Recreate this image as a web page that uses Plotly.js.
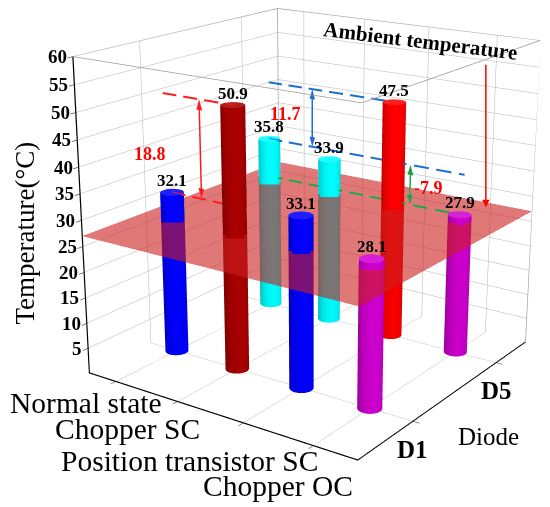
<!DOCTYPE html>
<html>
<head>
<meta charset="utf-8">
<script src="https://cdn.plot.ly/plotly-3.0.1.min.js"></script>
<style>
html,body{margin:0;padding:0;background:#fff;width:550px;height:507px;overflow:hidden;position:relative;}
#chart{position:absolute;left:-327px;top:-382px;width:1280px;height:1180px;}
</style>
</head>
<body>
<div id="chart"></div>
<script>
// ---- data ----
const categories = ['Normal state', 'Chopper SC', 'Position transistor SC', 'Chopper OC'];
const diodes = ['D1', 'D5'];
const tempD1 = [32.1, 50.9, 33.1, 28.1];
const tempD5 = [35.8, 33.9, 47.5, 27.9];
const ambientTemp = 27;
const zTicks = [5, 10, 15, 20, 25, 30, 35, 40, 45, 50, 55, 60];

// ---- styles ----
const colorsD1 = ['#0000ff', '#a80000', '#0000ff', '#d000d0'];
const colorsD5 = ['#00ffff', '#00ffff', '#ff0000', '#d000d0'];
const serif = 'Liberation Serif';
// label offsets (px) of the category labels from their ticks
const catShift = [[-30, -22], [-50, -27], [-54, -38], [-35, -40]];

const xRange = [0.55, 4.6];
const yRange = [0.43, 2.4];
const zRange = [0, 60];
const aspect = {x: 1, y: 1, z: 1};

const rScaled = 0.037;
const rx = rScaled * (xRange[1] - xRange[0]) / aspect.x;
const ry = rScaled * (yRange[1] - yRange[0]) / aspect.y;

const traces = [];
function flat(c) { return [[0, c], [1, c]]; }

function cylinder(xc, yc, h, color) {
  const n = 40;
  const th = [];
  for (let i = 0; i <= n; i++) th.push(2 * Math.PI * i / n);
  const sx = [], sy = [], sz = [], sc = [];
  [0, h].forEach(function (zz) {
    sx.push(th.map(t => xc + rx * Math.cos(t)));
    sy.push(th.map(t => yc + ry * Math.sin(t)));
    sz.push(th.map(() => zz));
    sc.push(th.map(() => 0));
  });
  traces.push({type: 'surface', x: sx, y: sy, z: sz, surfacecolor: sc,
    colorscale: flat(color), cmin: 0, cmax: 1, showscale: false, hoverinfo: 'skip',
    lighting: {ambient: 0.75, diffuse: 0.45, specular: 0.15, roughness: 0.6, fresnel: 0.1},
    lightposition: {x: 1000, y: -1000, z: 2000}});
  const cx = [], cy = [], cz = [], cc = [];
  [0, 1].forEach(function (f) {
    cx.push(th.map(t => xc + f * rx * Math.cos(t)));
    cy.push(th.map(t => yc + f * ry * Math.sin(t)));
    cz.push(th.map(() => h));
    cc.push(th.map(() => 0));
  });
  traces.push({type: 'surface', x: cx, y: cy, z: cz, surfacecolor: cc,
    colorscale: flat(color), cmin: 0, cmax: 1, showscale: false, hoverinfo: 'skip',
    lighting: {ambient: 0.6, diffuse: 0.3, specular: 0.1}});
}

categories.forEach(function (c, i) {
  cylinder(i + 1, 1, tempD1[i], colorsD1[i]);
  cylinder(i + 1, 2, tempD5[i], colorsD5[i]);
});

// thin outline of the box (top edges, back and right verticals)
const [x0, x1] = xRange, [y0, y1] = yRange, [z0, z1] = zRange;
traces.push({type: 'scatter3d', mode: 'lines',
  x: [x0, x0, x1, x1, x0, null, x0, x0, null, x1, x1],
  y: [y0, y1, y1, y0, y0, null, y1, y1, null, y1, y1],
  z: [z1, z1, z1, z1, z1, null, z0, z1, null, z0, z1],
  line: {color: '#9a9a9a', width: 1.5}, hoverinfo: 'skip', showlegend: false});

// ambient plane
traces.push({type: 'surface',
  x: [[x0, x1], [x0, x1]], y: [[y0, y0], [y1, y1]],
  z: [[ambientTemp, ambientTemp], [ambientTemp, ambientTemp]],
  surfacecolor: [[0, 0], [0, 0]], colorscale: flat('rgb(205,30,30)'), cmin: 0, cmax: 1,
  showscale: false, opacity: 0.6, hoverinfo: 'skip',
  lighting: {ambient: 1, diffuse: 0, specular: 0}});

// dashed guide line along x (dash pattern built in data units)
function dashLine(xa, xb, y, z, color) {
  const dash = 0.22, gap = 0.11;
  const xs = [], ys = [], zs = [];
  for (let s = xa; s < xb; s += dash + gap) {
    xs.push(s, Math.min(s + dash, xb), null);
    ys.push(y, y, null);
    zs.push(z, z, null);
  }
  traces.push({type: 'scatter3d', mode: 'lines', x: xs, y: ys, z: zs,
    line: {color: color, width: 4}, hoverinfo: 'skip', showlegend: false, connectgaps: false});
}
function vArrow(x, y, za, zb, color) {
  traces.push({type: 'scatter3d', mode: 'lines', x: [x, x], y: [y, y], z: [za + 1, zb - 1],
    line: {color: color, width: 3}, hoverinfo: 'skip', showlegend: false});
  const w = 0.045, hh = 2.0;
  traces.push({type: 'mesh3d',
    x: [x - w, x + w, x, x - w, x + w, x], y: [y, y, y, y, y, y],
    z: [za + hh, za + hh, za, zb - hh, zb - hh, zb],
    i: [0, 3], j: [1, 4], k: [2, 5], color: color, flatshading: true,
    lighting: {ambient: 1, diffuse: 0, specular: 0}, hoverinfo: 'skip'});
}

const red = '#ff1a1a', blue = '#1a6fd0', green = '#1aa640';
const arrowX = [1.48, 1.72, 3.26];
dashLine(0.9, 2.0, 1, tempD1[1], red);
dashLine(1.0, 1.9, 1, tempD1[0], red);
vArrow(arrowX[0], 1, tempD1[0], tempD1[1], red);
dashLine(1.0, 3.0, 2, tempD5[2], blue);
dashLine(1.0, 4.05, 2, tempD5[0], blue);
vArrow(arrowX[1], 2, tempD5[0], tempD5[2], blue);
dashLine(1.0, 4.0, 2, tempD5[3], green);
vArrow(arrowX[2], 2, tempD5[3], tempD5[0], green);

const annots = [];
const valFont = {family: serif, size: 17, color: '#000'};
categories.forEach(function (c, i) {
  annots.push({x: i + 1, y: 1, z: tempD1[i], text: '<b>' + tempD1[i].toFixed(1) + '</b>', showarrow: false, yshift: 12, font: valFont});
  annots.push({x: i + 1, y: 2, z: tempD5[i], text: '<b>' + tempD5[i].toFixed(1) + '</b>', showarrow: false, yshift: 12, font: valFont});
  // category tick labels
  annots.push({x: i + 1, y: y0, z: 0, text: c, showarrow: false, xshift: catShift[i][0], yshift: catShift[i][1],
    font: {family: serif, size: 29.5, color: '#000'}});
});
diodes.forEach(function (d, j) {
  annots.push({x: x1, y: j + 1, z: 0, text: '<b>' + d + '</b>', showarrow: false, xshift: 0, yshift: -28,
    font: {family: serif, size: 25, color: '#000'}});
});
annots.push({x: x1, y: 1.5, z: 0, text: 'Diode', showarrow: false, xshift: 32, yshift: -46,
  font: {family: serif, size: 25, color: '#000'}});
zTicks.forEach(function (v) {
  annots.push({x: x0, y: y0, z: v, text: '<b>' + v + '</b>', showarrow: false, xanchor: 'right', xshift: -4,
    font: {family: serif, size: 19, color: '#000'}});
});
annots.push({x: x0, y: y0, z: 27.5, text: 'Temperature(°C)', showarrow: false, textangle: -90, xshift: -57,
  font: {family: serif, size: 27, color: '#000'}});

const diffFont = {family: serif, size: 18, color: '#ff0000'};
annots.push({x: arrowX[0], y: 1, z: (tempD1[0] + tempD1[1]) / 2, text: '<b>' + (tempD1[1] - tempD1[0]).toFixed(1) + '</b>', showarrow: false, xshift: -50, yshift: -4, font: diffFont});
annots.push({x: arrowX[1], y: 2, z: (tempD5[0] + tempD5[2]) / 2, text: '<b>' + (tempD5[2] - tempD5[0]).toFixed(1) + '</b>', showarrow: false, xshift: -27, yshift: 4, font: diffFont});
annots.push({x: arrowX[2], y: 2, z: (tempD5[0] + tempD5[3]) / 2, text: '<b>' + (tempD5[3] - tempD5[0]).toFixed(1) + '</b>', showarrow: false, xshift: 18, yshift: -3, font: diffFont});
annots.push({x: 4.03, y: 2.31, z: ambientTemp, text: '', showarrow: true, arrowhead: 2, arrowsize: 1, arrowwidth: 1.5, arrowcolor: '#ff0000', ax: 0, ay: -144});
annots.push({x: 3.0, y: y1, z: 60, text: '<b>Ambient temperature</b>', showarrow: false, textangle: 7, xshift: -8, yshift: -14,
  font: {family: serif, size: 21, color: '#000'}});

const axBase = {showline: true, linecolor: '#000', linewidth: 2.5, gridcolor: '#b4b4b4', gridwidth: 1, showbackground: false,
  zeroline: false, ticks: 'outside', tickcolor: '#000', ticklen: 6, showspikes: false, showticklabels: false, title: {text: ''}};
const layout = {
  width: 1280, height: 1180,
  margin: {l: 0, r: 0, t: 0, b: 0},
  paper_bgcolor: '#fff',
  showlegend: false,
  scene: {
    domain: {x: [0, 1], y: [0, 1]},
    aspectmode: 'manual', aspectratio: aspect,
    camera: {eye: {x: 2.407, y: -3.432, z: 1.338}, center: {x: 0, y: 0, z: 0}, up: {x: 0, y: 0, z: 1}},
    xaxis: Object.assign({}, axBase, {range: xRange, tickvals: [1, 2, 3, 4]}),
    yaxis: Object.assign({}, axBase, {range: yRange, tickvals: [1, 2]}),
    zaxis: Object.assign({}, axBase, {range: zRange, tickvals: zTicks}),
    annotations: annots
  }
};

Plotly.newPlot('chart', traces, layout, {displayModeBar: false});
</script>
</body>
</html>
